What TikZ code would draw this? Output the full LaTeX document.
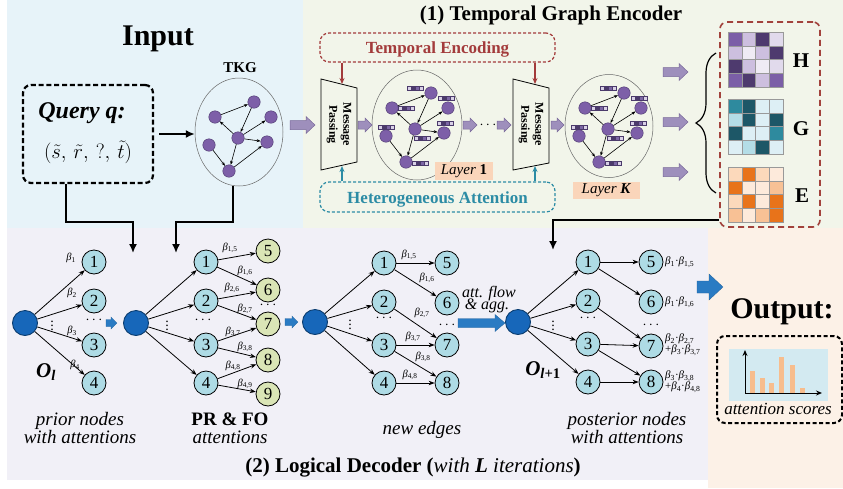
\documentclass[tikz,border=0pt]{standalone}
\usepackage{fontspec}
\setmainfont{Liberation Serif}
\usetikzlibrary{arrows.meta,shapes.geometric,decorations.pathreplacing}
\definecolor{bgin}{HTML}{E7F3F9}
\definecolor{bgenc}{HTML}{F2F5EA}
\definecolor{bgdec}{HTML}{F1F0F7}
\definecolor{bgout}{HTML}{FCF1E7}
\definecolor{kpurple}{HTML}{7D5FA8}
\definecolor{kpurpled}{HTML}{4D3A6E}
\definecolor{parrow}{HTML}{9E8FBC}
\definecolor{parrowd}{HTML}{7A6A9A}
\definecolor{oblue}{HTML}{1767BA}
\definecolor{odark}{HTML}{0B3D70}
\definecolor{nblue}{HTML}{AEDBE5}
\definecolor{ngreen}{HTML}{DAE5B6}
\definecolor{barrow}{HTML}{2A7BC3}
\definecolor{tered}{HTML}{A33B3B}
\definecolor{hateal}{HTML}{2C8CA5}
\definecolor{lbox}{HTML}{FAD5BA}
\definecolor{mred}{HTML}{A2423C}
\definecolor{chartbg}{HTML}{D3EAF1}
\definecolor{barc}{HTML}{F7BD8D}
\definecolor{bD}{HTML}{4B3A6B}
\definecolor{bM}{HTML}{7C66A5}
\definecolor{bL}{HTML}{D8D0E6}
\definecolor{hD}{HTML}{4E3A6E}
\definecolor{hM}{HTML}{7B5EA7}
\definecolor{hL}{HTML}{CDBFDF}
\definecolor{hXL}{HTML}{E1DAEC}
\definecolor{hXXL}{HTML}{EFEBF4}
\definecolor{gD}{HTML}{1D5767}
\definecolor{gM}{HTML}{2E8A9E}
\definecolor{gL}{HTML}{B4DDE7}
\definecolor{gXL}{HTML}{DDEFF5}
\definecolor{eD}{HTML}{E8731A}
\definecolor{eM}{HTML}{F8C195}
\definecolor{eL}{HTML}{FCD9BB}
\definecolor{eXL}{HTML}{FDEADB}
\newcommand\fsz[1]{\fontsize{#1}{#1}\selectfont}
\newcommand\bt[1]{\textit{β}\textsubscript{#1}}
\newcommand\kgraph[3]{%
  \node[gnode] (#1a) at ({#2+16},{#3-36}) {};
  \node[gnode] (#1b) at ({#2-23},{#3-21}) {};
  \node[gnode] (#1c) at ({#2+33},{#3-21}) {};
  \node[gnode] (#1d) at (#2,#3) {};
  \node[gnode] (#1e) at ({#2-29},{#3+7}) {};
  \node[gnode] (#1f) at ({#2+29},{#3+4}) {};
  \node[gnode] (#1g) at ({#2-9},{#3+33}) {};
  \draw[garr] (#1b) -- (#1a);
  \draw[garr] (#1a) -- (#1d);
  \draw[garr] (#1d) -- (#1b);
  \draw[garr] (#1d) -- (#1c);
  \draw[garr] (#1d) -- (#1f);
  \draw[garr] (#1e) -- (#1g);
  \draw[garr] (#1d) -- (#1g);
  \draw[garr] (#1g) -- (#1f);
}
\newcommand\ebar[2]{%
  \foreach \cc [count=\k from 0] in {bL,bD,bM,bL}{\filldraw[fill=\cc,draw=bD,line width=0.2pt] ({#1-8+\k*4},{#2-2}) rectangle ++(4,4);}}
\newcommand\kbars[2]{%
  \ebar{#1+0.5}{#2-41}\ebar{#1-9}{#2-21}\ebar{#1+31.5}{#2-31}\ebar{#1+7}{#2+9}%
  \ebar{#1-28.5}{#2-2}\ebar{#1+30.5}{#2-6}\ebar{#1+5.5}{#2+34}}
\newcommand\hmap[3]{%
  \foreach \cc [count=\i from 0] in {#3} {
    \pgfmathtruncatemacro\hmc{mod(\i,4)}
    \pgfmathtruncatemacro\hmr{int(\i/4)}
    \filldraw[fill=\cc,draw=black!40,line width=0.4pt] ({#1+\hmc*13.75},{#2+\hmr*13.75}) rectangle ++(13.75,13.75);
  }}
\newcommand\fatarr[7]{\filldraw[#7] (#1,{#3-#4}) -- ({#2-#6},{#3-#4}) -- ({#2-#6},{#3-#5}) -- (#2,#3) -- ({#2-#6},{#3+#5}) -- ({#2-#6},{#3+#4}) -- (#1,{#3+#4}) -- cycle;}
\begin{document}
\begin{tikzpicture}[x=1pt,y=-1pt,
  gnode/.style={circle,fill=kpurple,draw=kpurpled,line width=0.4pt,minimum size=12.5pt,inner sep=0},
  garr/.style={-{Stealth[length=4pt,width=3pt]},line width=0.6pt},
  bnode/.style={circle,draw=black,line width=0.8pt,fill=nblue,minimum size=24pt,inner sep=0,font=\fsz{17}},
  gnnode/.style={bnode,fill=ngreen},
  onode/.style={circle,draw=odark,fill=oblue,line width=0.9pt,minimum size=25pt,inner sep=0},
  darr/.style={-{Stealth[length=6pt,width=4.5pt]},line width=0.8pt},
  blab/.style={font=\fsz{10.5},inner sep=0},
  dlab/.style={font=\fsz{11},inner sep=0,anchor=west,align=left},
  bigarr/.style={-{Latex[length=9pt,width=8pt]},line width=1.6pt},
  parr/.style={fill=parrow,draw=parrowd,line width=0.5pt},
  barr/.style={fill=barrow,draw=barrow!80!black,line width=0.3pt},
  dotsl/.style={inner sep=0,font=\fsz{14}}
]
\useasboundingbox (0,0) rectangle (843,488);
\fill[white] (0,0) rectangle (843,488);
\fill[bgin] (7,0) rectangle (303,228);
\fill[bgenc] (303,0) rectangle (843,228);
\fill[bgdec] (7,228) rectangle (708,480);
\fill[bgout] (708,228) rectangle (843,488);

% ---------------- Input ----------------
\node[anchor=base,font=\bfseries\fsz{30}] (tin) at (158,45) {Input};
\node[draw,line width=2.2pt,dash pattern=on 5pt off 2.8pt,rounded corners=8pt,minimum width=130,minimum height=98] (query) at (88,134) {};
\node[anchor=base,font=\bfseries\itshape\fsz{24}] (qt) at (82,118) {Query q:};
\node[anchor=base,font=\fsz{22}] (qf) at (88,158) {$(\tilde{s},\,\tilde{r},\,?,\,\tilde{t})$};
\node[draw=black!60,line width=0.5pt,ellipse,minimum width=88,minimum height=108,inner sep=0] (tkg) at (239,132) {};
\node[anchor=base,font=\bfseries\fsz{15}] (tkgl) at (240,72) {TKG};
\kgraph{t}{238}{138}
\draw[bigarr,shorten <=5pt] (query.east) -- (query.east -| tkg.west);
\coordinate (q1) at (66,222);
\coordinate (q2) at (133,253);
\draw[bigarr] (query.south -| q1) -- (q1) -| (q2);
\coordinate (t1) at (233,222);
\coordinate (t2) at (176,253);
\draw[bigarr] (tkg.south -| t1) -- (t1) -| (t2);

% ---------------- Encoder ----------------
\node[anchor=base,font=\bfseries\fsz{21}] (enct) at (551,20) {(1) Temporal Graph Encoder};
\node[draw=tered,line width=1.2pt,dash pattern=on 3pt off 2pt,rounded corners=9pt,minimum width=235,minimum height=29] (te) at (437.5,47.5) {};
\node[anchor=base,font=\bfseries\fsz{17},text=tered] (tet) at (437.5,53) {Temporal Encoding};
\node[draw=hateal,line width=1.2pt,dash pattern=on 3pt off 2pt,rounded corners=9pt,minimum width=235,minimum height=30] (ha) at (437.5,197) {};
\node[anchor=base,font=\bfseries\fsz{17},text=hateal] (hat) at (437.5,203) {Heterogeneous Attention};
% message passing blocks
\filldraw[fill=bgenc,draw=black,line width=0.8pt] (321,79) -- (357,88) -- (357,162) -- (321,170) -- cycle;
\node[rotate=-90,align=center,font=\bfseries\fontsize{12}{14}\selectfont,inner sep=0] (mp1) at (339,124.5) {Message\\Passing};
\filldraw[fill=bgenc,draw=black,line width=0.8pt] (513,79) -- (549,88) -- (549,163) -- (513,170) -- cycle;
\node[rotate=-90,align=center,font=\bfseries\fontsize{12}{14}\selectfont,inner sep=0] (mp2) at (531,124.5) {Message\\Passing};
\coordinate (m1t) at (342,84);
\coordinate (m1b) at (342,166);
\coordinate (m2t) at (535,84);
\coordinate (m2b) at (535,166);
\draw[-{Stealth[length=6pt,width=5pt]},line width=1.2pt,draw=tered] (te.south -| m1t) -- (m1t);
\draw[-{Stealth[length=6pt,width=5pt]},line width=1.2pt,draw=tered] (te.south -| m2t) -- (m2t);
\draw[-{Stealth[length=6pt,width=5pt]},line width=1.2pt,draw=hateal] (ha.north -| m1b) -- (m1b);
\draw[-{Stealth[length=6pt,width=5pt]},line width=1.2pt,draw=hateal] (ha.north -| m2b) -- (m2b);
% layer graphs
\node[draw=black!60,line width=0.5pt,ellipse,minimum width=90,minimum height=110,inner sep=0] (lay1) at (417,125) {};
\kgraph{u}{415}{129}
\kbars{415}{129}
\node[draw=black!60,line width=0.5pt,ellipse,minimum width=88,minimum height=103,inner sep=0] (layk) at (609,126) {};
\kgraph{v}{608}{129}
\kbars{608}{129}
\node[fill=lbox,minimum width=58,minimum height=18,inner sep=0,font=\fsz{15}] (l1) at (464,171) {\textit{Layer} \textbf{1}};
\node[fill=lbox,minimum width=67,minimum height=17,inner sep=0,font=\fsz{15}] (lk) at (606.5,190) {\textit{Layer \textbf{K}}};
% purple fat arrows
\fatarr{290}{315}{125}{4.5}{8.5}{9}{parr}
\fatarr{358}{372}{125}{4}{7}{7}{parr}
\fatarr{463}{477}{125}{4}{7}{7}{parr}
\node[dotsl] (edots) at (488,125) {$\cdots$};
\fatarr{497}{511}{125}{4}{7}{7}{parr}
\fatarr{551}{564}{125}{4}{7}{7}{parr}
\fatarr{663}{688}{72}{4.5}{8.5}{9}{parr}
\fatarr{663}{688}{122}{4.5}{8.5}{9}{parr}
\fatarr{663}{688}{172}{4.5}{8.5}{9}{parr}
% brace and matrices
\draw[decorate,decoration={brace,amplitude=20pt},line width=1.2pt] (716,193) -- (716,53);
\node[draw=mred,line width=1.6pt,dash pattern=on 6pt off 4pt,rounded corners=7pt,minimum width=100,minimum height=205] (mbox) at (770,124.5) {};
\hmap{728}{32}{hM,hL,hD,hXL,hL,hXXL,hL,hD,hD,hL,hXXL,hXL,hM,hD,hL,hM}
\hmap{728}{99}{gM,gD,gXL,gXL,gL,gD,gXL,gD,gD,gXL,gXL,gM,gXL,gL,gD,gXL}
\hmap{728}{167}{eL,eD,eL,eXL,eD,eXL,eXL,eM,eL,eD,eXL,eD,eM,eXL,eM,eD}
\node[anchor=base,font=\bfseries\fsz{21}] (hl) at (801,67) {H};
\node[anchor=base,font=\bfseries\fsz{21}] (gl) at (801,135) {G};
\node[anchor=base,font=\bfseries\fsz{21}] (el) at (802,202) {E};
\coordinate (e1) at (553,220);
\coordinate (e2) at (553,250);
\draw[bigarr] (mbox.west |- e1) -- (e1) -- (e2);

% ---------------- Decoder ----------------
% section A
\node[onode] (A0) at (25,323) {};
\foreach \i/\y in {1/262,2/301,3/345,4/383} \node[bnode] (A\i) at (94,\y) {\i};
\foreach \i in {1,...,4} \draw[darr] (A0) -- (A\i);
\node[blab] at (71,258) {\bt{1}};
\node[blab] at (72,293) {\bt{2}};
\node[blab] at (72,331) {\bt{3}};
\node[blab] at (75,365) {\bt{4}};
\node[dotsl] at (52,323) {$\vdots$};
\node[dotsl] at (94,320) {$\cdots$};
\node[anchor=base,font=\bfseries\itshape\fsz{21}] (Ol) at (46,377) {O\textsubscript{l}};
\fatarr{106}{117}{323}{3.5}{6}{6}{barr}
% section B
\node[onode] (B0) at (136,323) {};
\foreach \i/\y in {1/262,2/301,3/345,4/383} \node[bnode] (B\i) at (206,\y) {\i};
\foreach \i/\y in {5/251,6/290,7/324,8/360,9/394} \node[gnnode] (B\i) at (268,\y) {\i};
\foreach \i in {1,...,4} \draw[darr] (B0) -- (B\i);
\foreach \a/\b in {1/5,1/6,2/6,2/7,3/7,3/8,4/8,4/9} \draw[darr] (B\a) -- (B\b);
\node[blab] at (230,248) {\bt{1,5}};
\node[blab] at (245,271) {\bt{1,6}};
\node[blab] at (232,288) {\bt{2,6}};
\node[blab] at (245,309) {\bt{2,7}};
\node[blab] at (233,332) {\bt{3,7}};
\node[blab] at (245,347) {\bt{3,8}};
\node[blab] at (233,366) {\bt{4,8}};
\node[blab] at (245,384) {\bt{4,9}};
\node[dotsl] at (167,323) {$\vdots$};
\node[dotsl] at (203,320) {$\cdots$};
\node[dotsl] at (268,305) {$\cdots$};
\fatarr{285}{298}{322}{3.5}{6}{6}{barr}
% section C
\node[onode] (C0) at (315,322) {};
\foreach \i/\y in {1/263,2/302,3/345,4/383} \node[bnode] (C\i) at (384,\y) {\i};
\foreach \i/\y in {5/263,6/303,7/345,8/383} \node[bnode] (C\i) at (447,\y) {\i};
\foreach \i in {1,...,4} \draw[darr] (C0) -- (C\i);
\foreach \a/\b in {1/5,1/6,2/7,3/7,3/8,4/8} \draw[darr] (C\a) -- (C\b);
\node[blab] at (409,255) {\bt{1,5}};
\node[blab] at (427,278) {\bt{1,6}};
\node[blab] at (422,313) {\bt{2,7}};
\node[blab] at (413,337) {\bt{3,7}};
\node[blab] at (423,357) {\bt{3,8}};
\node[blab] at (410,375) {\bt{4,8}};
\node[dotsl] at (350,322) {$\vdots$};
\node[dotsl] at (384,318) {$\cdots$};
\node[dotsl] at (447,325) {$\cdots$};
\node[anchor=base,font=\itshape\fsz{16}] (af1) at (489,297) {att. flow};
\node[anchor=base,font=\itshape\fsz{16}] (af2) at (487,309) {\& agg.};
\fatarr{458}{505}{323}{4.5}{8.5}{10}{barr}
% section D
\node[onode] (D0) at (518,322) {};
\foreach \i/\y in {1/262,2/301,3/344,4/382} \node[bnode] (D\i) at (588,\y) {\i};
\foreach \i/\y in {5/262,6/302,7/346,8/382} \node[bnode] (D\i) at (651,\y) {\i};
\foreach \i in {1,...,4} \draw[darr] (D0) -- (D\i);
\foreach \a/\b in {1/5,1/6,2/7,3/7,3/8,4/8} \draw[darr] (D\a) -- (D\b);
\node[dlab] at (665,262) {\bt{1}·\bt{1,5}};
\node[dlab] at (665,302) {\bt{1}·\bt{1,6}};
\node[dlab] at (665,345) {\bt{2}·\bt{2,7}\\+\bt{3}·\bt{3,7}};
\node[dlab] at (665,382) {\bt{3}·\bt{3,8}\\+\bt{4}·\bt{4,8}};
\node[dotsl] at (553,323) {$\vdots$};
\node[dotsl] at (588,318) {$\cdots$};
\node[dotsl] at (651,325) {$\cdots$};
\node[anchor=base,font=\bfseries\itshape\fsz{21}] (Ol1) at (543,375) {O\textsubscript{l\textup{+1}}};
% captions
\node[anchor=base,font=\itshape\fsz{19}] at (80,425) {prior nodes};
\node[anchor=base,font=\itshape\fsz{19}] at (80,443) {with attentions};
\node[anchor=base,font=\bfseries\fsz{19}] at (230,425) {PR \& FO};
\node[anchor=base,font=\itshape\fsz{19}] at (230,443) {attentions};
\node[anchor=base,font=\itshape\fsz{19}] at (422,434) {new edges};
\node[anchor=base,font=\itshape\fsz{19}] at (627,425) {posterior nodes};
\node[anchor=base,font=\itshape\fsz{19}] at (627,443) {with attentions};
\node[anchor=base,font=\fsz{21}] (dect) at (413,472) {\textbf{(2) Logical Decoder (}\textit{with \textbf{L} iterations}\textbf{)}};

% ---------------- Output ----------------
\fatarr{697}{723}{287}{6}{13}{14}{barr}
\node[anchor=base,font=\bfseries\fsz{30}] (outt) at (782,318) {Output:};
\node[draw,line width=2pt,dash pattern=on 4pt off 2.5pt,rounded corners=8pt,minimum width=125,minimum height=87] (obox) at (779.5,379.5) {};
\fill[chartbg] (729,349) rectangle (828,401);
\foreach \bx/\by in {750/371,760/378,769/383,779/357,790/365,800/388} \fill[barc] (\bx,\by) rectangle (\bx+5,393);
\draw[-{Stealth[length=6pt,width=5pt]},line width=1pt] (745,393) -- (745,350);
\draw[-{Stealth[length=6pt,width=5pt]},line width=1pt] (745,393) -- (822,393);
\node[anchor=base,font=\itshape\fsz{17}] (ats) at (778,414) {attention scores};
\end{tikzpicture}
\end{document}
